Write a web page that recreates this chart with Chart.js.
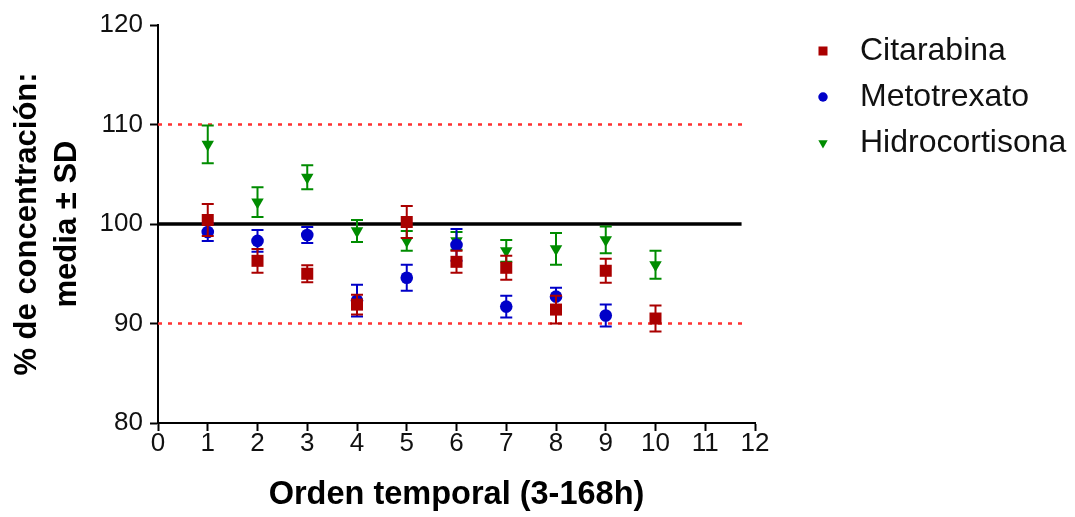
<!DOCTYPE html>
<html>
<head>
<meta charset="utf-8">
<script src="https://cdn.jsdelivr.net/npm/chart.js@4/dist/chart.umd.min.js"></script>
<style>
  html, body { margin: 0; padding: 0; background: #fff; }
</style>
</head>
<body>
<canvas id="grafico" width="1075" height="517"></canvas>
<script>
// Datos
const orden = [1, 2, 3, 4, 5, 6, 7, 8, 9, 10];
const citarabina = [100.4, 96.3, 95.0, 91.9, 100.2, 96.2, 95.6, 91.4, 95.3, 90.5];
const citarabinaSD = [1.6, 1.2, 0.85, 1.0, 1.6, 1.1, 1.2, 1.4, 1.2, 1.3];
const metotrexato = [99.2, 98.3, 98.9, 92.3, 94.6, 97.9, 91.7, 92.7, 90.8];
const metotrexatoSD = [0.9, 1.1, 0.8, 1.6, 1.3, 1.6, 1.1, 0.9, 1.1];
const hidrocortisona = [108.0, 102.2, 104.7, 99.3, 98.3, 98.3, 97.3, 97.5, 98.4, 95.9];
const hidrocortisonaSD = [1.9, 1.5, 1.2, 1.1, 1.0, 0.9, 1.1, 1.6, 1.35, 1.4];

// Líneas de referencia
const limites = [110, 90];
const limitesFin = 11.8;
const objetivo = 100;
const objetivoFin = 11.73;

const ejeX = { min: 0, max: 12, paso: 1 };
const ejeY = { min: 80, max: 120, paso: 10 };

const fuente = 'Arial, "Liberation Sans", sans-serif';

function puntos(valores) {
  return valores.map((v, i) => ({ x: orden[i], y: v }));
}

function serie(label, valores, sd, color, estilo, radio, rotacion) {
  return {
    type: 'scatter',
    label,
    data: puntos(valores),
    sd,
    enLeyenda: true,
    backgroundColor: color,
    borderColor: color,
    borderWidth: 0,
    pointStyle: estilo,
    pointRadius: radio,
    pointRotation: rotacion,
    pointHoverRadius: radio
  };
}

function lineaRef(valor, fin, color, ancho, guion) {
  return {
    type: 'line',
    data: [{ x: ejeX.min, y: valor }, { x: fin, y: valor }],
    borderColor: color,
    borderWidth: ancho,
    borderDash: guion,
    pointRadius: 0,
    fill: false
  };
}

// Barras de error (media ± SD)
const barrasError = {
  id: 'barrasError',
  beforeDatasetDraw(chart, args) {
    const ds = chart.data.datasets[args.index];
    if (!ds.sd) return;
    const { ctx, scales: { x, y } } = chart;
    ctx.save();
    ctx.strokeStyle = ds.borderColor;
    ctx.lineWidth = 2;
    ds.data.forEach((p, i) => {
      const px = x.getPixelForValue(p.x);
      const arriba = y.getPixelForValue(p.y + ds.sd[i]);
      const abajo = y.getPixelForValue(p.y - ds.sd[i]);
      ctx.beginPath();
      ctx.moveTo(px, arriba); ctx.lineTo(px, abajo);
      ctx.moveTo(px - 6, arriba); ctx.lineTo(px + 6, arriba);
      ctx.moveTo(px - 6, abajo); ctx.lineTo(px + 6, abajo);
      ctx.stroke();
    });
    ctx.restore();
  }
};

// Leyenda a la derecha
const leyenda = {
  id: 'leyenda',
  afterDraw(chart) {
    const ctx = chart.ctx;
    const series = chart.data.datasets.filter(d => d.enLeyenda);
    ctx.save();
    series.forEach((ds, i) => {
      const yy = 51 + i * 46;
      ctx.fillStyle = ds.backgroundColor;
      Chart.helpers.drawPoint(ctx, {
        pointStyle: ds.pointStyle,
        radius: ds.pointRadius * 0.75,
        rotation: ds.pointRotation,
        borderWidth: 0
      }, 823, yy);
      ctx.fillStyle = '#111';
      ctx.font = '32px ' + fuente;
      ctx.textBaseline = 'middle';
      ctx.textAlign = 'left';
      ctx.fillText(ds.label, 860, yy);
    });
    ctx.restore();
  }
};

new Chart(document.getElementById('grafico'), {
  data: {
    datasets: [
      serie('Citarabina', citarabina, citarabinaSD, 'rgb(170,0,0)', 'rect', 8.5, 0),
      serie('Metotrexato', metotrexato, metotrexatoSD, 'rgb(0,0,200)', 'circle', 6.3, 0),
      serie('Hidrocortisona', hidrocortisona, hidrocortisonaSD, 'rgb(0,140,0)', 'triangle', 7.2, 180),
      lineaRef(objetivo, objetivoFin, '#000', 3.5, []),
      lineaRef(limites[0], limitesFin, 'rgb(255,50,50)', 2.5, [4, 6]),
      lineaRef(limites[1], limitesFin, 'rgb(255,50,50)', 2.5, [4, 6])
    ]
  },
  options: {
    responsive: false,
    animation: false,
    devicePixelRatio: 1,
    layout: { padding: { left: 0, right: 320, top: 25, bottom: 0 } },
    plugins: {
      legend: { display: false },
      tooltip: { enabled: false }
    },
    scales: {
      x: {
        type: 'linear',
        min: ejeX.min,
        max: ejeX.max,
        afterFit: s => { s.height = 94; },
        border: { color: '#000', width: 2 },
        grid: { drawOnChartArea: false, tickLength: 8, color: '#000', tickWidth: 2 },
        ticks: { stepSize: ejeX.paso, color: '#111', padding: -3, font: { family: fuente, size: 26 } },
        title: {
          display: true,
          text: 'Orden temporal (3-168h)',
          color: '#000',
          padding: { top: 0, bottom: 2 },
          font: { family: fuente, size: 32.5, weight: 'bold', lineHeight: 1.2 }
        }
      },
      y: {
        type: 'linear',
        min: ejeY.min,
        max: ejeY.max,
        afterFit: s => { s.width = 158; },
        border: { color: '#000', width: 2 },
        grid: { drawOnChartArea: false, tickLength: 8, color: '#000', tickWidth: 2 },
        ticks: { stepSize: ejeY.paso, color: '#111', padding: 7, font: { family: fuente, size: 26 } },
        title: {
          display: true,
          text: ['% de concentración:', 'media ± SD'],
          color: '#000',
          padding: { top: 7, bottom: 0 },
          font: { family: fuente, size: 31, weight: 'bold', lineHeight: 1.29 }
        }
      }
    }
  },
  plugins: [barrasError, leyenda]
});
</script>
</body>
</html>
